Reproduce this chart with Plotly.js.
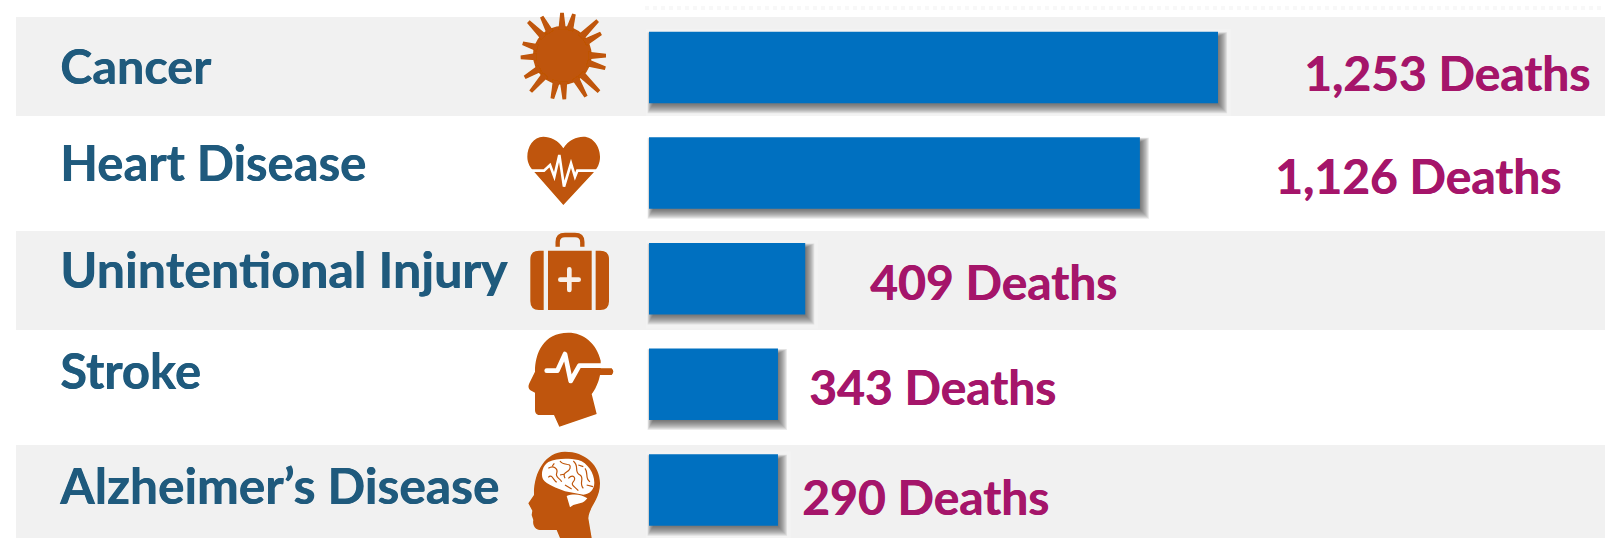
<!DOCTYPE html>
<html>
<head>
<meta charset="utf-8">
<script src="https://cdn.plot.ly/plotly-3.0.1.min.js"></script>
<style>html,body{margin:0;padding:0;background:#fff;overflow:hidden}#chart{width:1605px;height:538px}</style>
</head>
<body>
<div id="chart"></div>
<script>
// ---- data ----
const causes = ["Cancer", "Heart Disease", "Unintentional Injury", "Stroke", "Alzheimer’s Disease"];
const valueLabels = ["1,253 Deaths", "1,126 Deaths", "409 Deaths", "343 Deaths", "290 Deaths"];
// drawn bar lengths as they appear in the picture, on the scale of the top bar
const barLengths = [1253, 1081, 344, 284, 284];

// ---- layout ----
const W = 1605, H = 538;
const pxPerUnit = 569 / 1253, barStartPx = 649;
const rowStartPx = 67.5, rowStepPx = 105.6, barThickPx = 71.5;
const bands = [[17, 116], [231, 330], [445, 538]];
const causeX = [59, 59, 59, 59, 58], causeBase = [82, 179, 287, 387, 503];
const causeFs = [48.5, 49, 50.2, 49, 49.7];
const valueX = [1303, 1274, 869, 808, 801], valueBase = [89, 192, 298, 403, 513];
const ORANGE = "#BF5407", BLUE = "#0070C0", NAVY = "#1F5A7D", PLUM = "#A5156A";
const VALUE_FS = 48, DESC = 13;

const px = v => v / W, py = v => 1 - v / H;
const shapes = [];
bands.forEach(b => shapes.push({type:"rect", xref:"paper", yref:"paper", layer:"below",
  x0:px(16), x1:1, y0:py(b[1]), y1:py(b[0]), fillcolor:"#F1F1F1", line:{width:0}}));
shapes.push({type:"line", xref:"paper", yref:"paper", layer:"below", x0:px(645), x1:1, y0:py(8), y1:py(8),
  line:{color:"#F8F8F8", width:4, dash:"dot"}});

// soft drop shadow of each bar, derived from the bar lengths through the axes
const half = barThickPx / 2 / rowStepPx;
barLengths.forEach((len, i) => {
  const u = p => p / pxPerUnit, v = p => p / rowStepPx;
  shapes.push({type:"rect", layer:"below", xref:"x", yref:"y",
    x0:u(-3), x1:len + u(13), y0:i - half + v(-3), y1:i + half + v(14),
    fillcolor:"rgba(255,255,255,0.18)", line:{width:0}});
  for (let k = 9; k >= 0; k--) {
    shapes.push({type:"rect", layer:"below", xref:"x", yref:"y",
      x0:u(4 - k * 0.6), x1:len + u(0.5 + k * 0.95), y0:i - half + v(5 - k * 0.5), y1:i + half + v(1 + k * 1.0),
      fillcolor:"rgba(60,60,60,0.10)", line:{width:0}});
  }
});

const svgURI = (w, h, body) => "data:image/svg+xml;charset=utf-8," + encodeURIComponent(
  `<svg xmlns="http://www.w3.org/2000/svg" width="${w*3}" height="${h*3}" viewBox="0 0 ${w*3} ${h*3}"><defs><filter id="b" x="-5%" y="-5%" width="110%" height="110%"><feGaussianBlur stdDeviation="1.4"/></filter></defs><g filter="url(#b)">${body}</g></svg>`);

const virusTips = [[186,38],[222,42],[293,62],[303,100],[318,167],[316,205],[297,275],[258,290],[193,298],[157,296],[92,275],[74,232],[62,172],[68,130],[85,65],[125,50]];
const spike = t => {
  const cx = 187, cy = 166, dx = t[0] - cx, dy = t[1] - cy, r = Math.hypot(dx, dy), ux = dx / r, uy = dy / r;
  const nx = -uy, ny = ux, bx = cx + ux * 78, by = cy + uy * 78;
  const p = (x, y, w) => `${x + nx * w},${y + ny * w} ${x - nx * w},${y - ny * w}`;
  const a = p(bx, by, 11).split(" "), b = p(t[0], t[1], 5.5).split(" ");
  return `<polygon fill="${ORANGE}" points="${a[0]} ${b[0]} ${b[1]} ${a[1]}"/>`;
};
const virus = `<circle cx="187" cy="166" r="88" fill="${ORANGE}"/>` + virusTips.map(spike).join("");
const heart = `<path fill="${ORANGE}" d="M190,445 C175,420 150,410 130,410 C100,410 82,440 82,470 C82,490 92,505 105,518 L190,615 L280,518 C292,505 300,490 300,470 C300,440 280,410 250,410 C230,410 205,420 190,445Z"/>
<polyline fill="none" stroke="#fff" stroke-width="8" points="90,512 132,512 150,495 163,530 178,465 192,560 213,490 225,530 232,512 295,512"/>`;
const briefcase = `<path fill="none" stroke="${ORANGE}" stroke-width="13" d="M128,56 V42 Q128,21 150,21 H180 Q202,21 202,42 V56"/>
<path fill="${ORANGE}" d="M86,68 V246 H72 Q46,246 46,220 V94 Q46,68 72,68Z M99,68 H230 V246 H99Z M242,68 H256 Q282,68 282,94 V220 Q282,246 256,246 H242Z"/>
<path stroke="#F8EFE8" stroke-width="14" stroke-linecap="round" d="M163,124 V186 M136,155 H191"/>`;
const strokeHead = `<path fill="${ORANGE}" d="M205,188 C250,188 290,220 302,272 L302,295 L335,295 Q345,305 335,315 L300,315 C295,340 285,360 275,372 L290,432 L178,470 L162,435 L115,435 Q105,432 105,420 L105,368 L90,360 Q82,352 88,340 L105,305 C105,250 130,188 205,188Z"/>
<polyline fill="none" stroke="#fff" stroke-width="14" stroke-linecap="round" stroke-linejoin="round" points="140,302 172,302 195,252 212,333 238,287 302,287"/>`;
const brainHead = `<path fill="${ORANGE}" d="M150,5 C210,5 255,45 255,100 C255,150 222,170 220,205 L230,264 L135,264 L125,240 L75,240 C60,240 52,225 55,210 L50,195 L52,182 L40,160 L57,135 C55,70 90,5 150,5Z"/>
<path fill="#fff" d="M100,36 C125,24 160,24 190,30 C218,38 238,70 238,98 C238,118 225,132 205,134 L150,124 C125,114 95,104 84,88 C76,70 84,46 100,36Z"/>
<path fill="#fff" d="M155,138 C175,130 200,133 217,145 C205,162 190,160 175,165 L165,172Z"/>
<path fill="none" stroke="${ORANGE}" stroke-width="3.6" d="M100,55 C115,45 130,55 125,70 C120,82 135,85 140,95 M135,33 C145,50 170,35 165,55 C160,70 140,65 150,85 M175,33 C195,50 175,65 195,75 C210,85 190,100 205,115 M100,82 C110,70 115,90 125,97 M160,85 C175,70 185,85 175,95 C165,105 180,110 190,122 M210,55 C222,70 208,85 225,95 M215,105 L234,110 M150,105 L170,117 M118,40 L112,48 M150,72 L135,75 M190,45 L205,50"/>`;

const icons = [
  {x:500, y:0,   w:180, h:110, body:virus},
  {x:500, y:0,   w:180, h:210, body:heart},
  {x:515, y:228, w:100, h:100, body:briefcase},
  {x:500, y:270, w:180, h:170, body:strokeHead},
  {x:515, y:450, w:90,  h:88,  body:brainHead}
];
const images = icons.map(ic => ({source:svgURI(ic.w, ic.h, ic.body), xref:"paper", yref:"paper",
  x:px(ic.x), y:py(ic.y), sizex:ic.w / W, sizey:ic.h / H, xanchor:"left", yanchor:"top", sizing:"stretch", layer:"above"}));

const note = (text, x, base, color, size) => ({text, xref:"paper", yref:"paper", x:px(x), y:py(base + DESC),
  xanchor:"left", yanchor:"bottom", showarrow:false, borderpad:0, align:"left",
  font:{family:"Lato, 'Open Sans', sans-serif", size, weight:700, color, shadow:`0.6px 0 0 ${color}`}});
const annotations = [
  ...causes.map((c, i) => note(`<b>${c}</b>`, causeX[i], causeBase[i], NAVY, causeFs[i])),
  ...valueLabels.map((c, i) => note(`<b>${c}</b>`, valueX[i], valueBase[i], PLUM, VALUE_FS))
];

Plotly.newPlot("chart", [{
  type:"bar", orientation:"h", y:causes, x:barLengths, width:barThickPx / rowStepPx,
  marker:{color:BLUE, line:{width:0}}, hoverinfo:"skip"
}], {
  width:W, height:H, margin:{l:0, r:0, t:0, b:0}, paper_bgcolor:"#fff", plot_bgcolor:"rgba(0,0,0,0)", showlegend:false,
  xaxis:{range:[-barStartPx / pxPerUnit, (W - barStartPx) / pxPerUnit], visible:false, fixedrange:true},
  yaxis:{type:"category", categoryorder:"array", categoryarray:causes,
    range:[(H - rowStartPx) / rowStepPx, -rowStartPx / rowStepPx], visible:false, fixedrange:true},
  shapes, images, annotations
}, {displayModeBar:false, staticPlot:true});
</script>
</body>
</html>
